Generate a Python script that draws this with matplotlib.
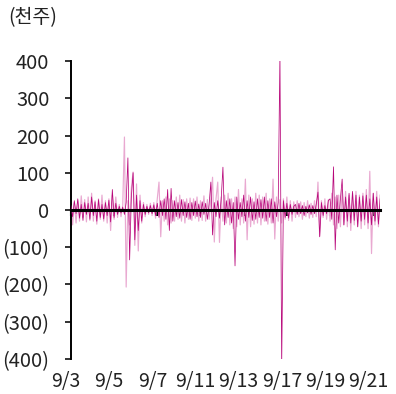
import matplotlib.pyplot as plt
import matplotlib.transforms as mtransforms
import numpy as np

plt.rcParams['font.family'] = ['Noto Sans CJK KR', 'DejaVu Sans']

# two intraday series (천주)
light_vals = [
    30, -40, 20, -35, 25, -30, 38, -20, 28, -32,
    35, -28, 45, -30, 25, -38, 30, -25, 40, -30,
    25, -35, 30, -55, 40, -25, 35, -20, 15, -18,
    12, 196, -207, 25, -40, 60, 102, -95, 70, -110,
    40, -35, 20, -18, 15, -12, 18, -15, 20, -22,
    30, 75, -72, 25, -30, 35, -40, 30, -35, 25,
    -30, 35, -25, 40, -30, 28, -35, 30, -25, 32,
    -28, 30, -22, 35, -30, 25, -28, 38, -30, 28,
    -25, 30, 88, -86, 30, 75, -87, 35, -30, 40,
    -35, 45, -40, 30, -50, 35, -45, 55, -40, 30,
    -35, 83, -80, 40, -45, 30, -38, 45, -35, 40,
    -40, 35, -30, 45, -38, 30, -35, 83, -78, 35,
    -30, 28, -35, 30, -25, 35, -28, 25, -30, 22,
    -20, 25, -18, 22, -25, 20, -18, 25, -22, 18,
    -20, 25, -18, 75, -70, 25, -20, 30, -25, 28,
    -30, 45, -40, 35, -50, 40, -45, 55, -40, 50,
    -45, 40, -55, 45, -40, 50, -45, 40, -50, 45,
    -40, 55, -50, 104, -117, 45, -40, 50, -45, 40,
]
dark_vals = [
    12, -18, 25, -10, 30, -22, 15, -28, 20, -12,
    18, -25, 35, -15, 22, -30, 28, -20, 15, -24,
    20, -15, 26, -32, 55, -20, 18, -12, 10, -8,
    8, -12, 20, 140, -134, 35, 100, -80, 40, -55,
    25, -30, 15, -12, 10, -8, 12, -10, 14, -15,
    18, -20, 25, -15, 30, -25, 55, -55, 58, -30,
    25, -18, 20, -22, 28, -15, 22, -20, 18, -25,
    20, -15, 24, -18, 16, -20, 22, -12, 18, -25,
    15, 75, -67, 20, -18, 25, -22, 30, 115, -40,
    25, -20, 30, -35, 20, -150, 35, -25, 20, -18,
    40, -30, 25, -20, 35, -28, 22, -25, 30, -20,
    28, -22, 35, -30, 25, -20, 30, -35, 22, -18,
    20, 420, -420, 25, -20, 18, -22, 15, -12, 10,
    15, -12, 18, -10, 12, -15, 10, -8, 14, -12,
    12, -10, 15, 48, -72, 20, -15, 12, -10, 25,
    30, -25, 116, -107, 40, -35, 30, 83, -40, 35,
    -30, 45, -35, 50, -28, 40, -45, 35, -30, 38,
    -25, 40, -35, 30, -40, 45, -30, 35, -38, 30,
]
date_labels = ['9/3', '9/5', '9/7', '9/11', '9/13', '9/17', '9/19', '9/21']
pts_per_label = 25
y_ticks = [400, 300, 200, 100, 0, -100, -200, -300, -400]


def fmt(v):
    return f'({abs(v)})' if v < 0 else f'{v}'


x = np.arange(len(dark_vals))

fig = plt.figure(figsize=(3.96, 3.94), dpi=100)
ax = fig.add_axes([0.179, 0.089, 0.781, 0.756])

ax.plot(x, light_vals, color='#e9a9d1', lw=0.85, zorder=2)
ax.plot(x, dark_vals, color='#b8077a', lw=0.55, zorder=3)

ax.set_xlim(0, len(dark_vals) - 1)
ax.set_ylim(-400, 400)

ax.set_yticks(y_ticks)
ax.set_yticklabels([fmt(v) for v in y_ticks])
ax.tick_params(axis='y', direction='out', length=4.5, width=1.3,
               labelsize=14.5, pad=11, colors='#222222')

for s in ['top', 'right']:
    ax.spines[s].set_visible(False)
ax.spines['left'].set_linewidth(1.4)
ax.spines['bottom'].set_position(('data', 0))
ax.spines['bottom'].set_linewidth(2.2)
ax.spines['bottom'].set_zorder(5)

# small ticks on the zero line, date labels at the bottom
ticks = np.arange(len(date_labels)) * pts_per_label
ax.set_xticks(ticks)
ax.tick_params(axis='x', direction='out', length=4, width=1.5,
               labelbottom=False)

sec = ax.secondary_xaxis(0)
sec.set_xticks(ticks)
sec.set_xticklabels(date_labels)
sec.tick_params(length=0, pad=9, labelsize=14, colors='#222222')
sec.spines['bottom'].set_visible(False)
shift = mtransforms.ScaledTranslation(-5 / 100, 0, fig.dpi_scale_trans)
for lab in sec.get_xticklabels():
    lab.set_transform(lab.get_transform() + shift)

fig.text(0.02, 0.955, '(천주)', fontsize=14, color='#222222', va='center')

fig.savefig('out.png', dpi=100)
